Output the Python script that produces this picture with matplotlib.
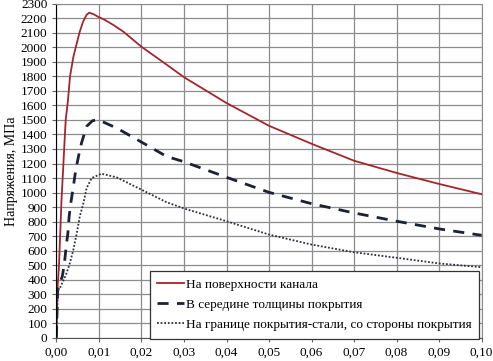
import numpy as np
import matplotlib
matplotlib.use('Agg')
import matplotlib.pyplot as plt

plt.rcParams['font.family'] = ['Liberation Serif', 'DejaVu Serif']

# поверхность канала
x_surf = [0, 0.0003, 0.0006, 0.0009, 0.0012, 0.0016, 0.002, 0.0022, 0.0027, 0.0032,
          0.004, 0.0048, 0.0055, 0.0063, 0.0071, 0.0077, 0.0087, 0.0098, 0.0114,
          0.0134, 0.0157, 0.02, 0.026, 0.03, 0.04, 0.05, 0.06, 0.07, 0.08, 0.09, 0.10]
y_surf = [0, 355, 490, 720, 950, 1170, 1400, 1505, 1630, 1800,
          1937, 2030, 2110, 2180, 2225, 2240, 2230, 2212, 2190,
          2155, 2110, 2005, 1880, 1795, 1617, 1460, 1336, 1219, 1135, 1059, 988]

# середина толщины
x_mid = [0, 0.0003, 0.0006, 0.0014, 0.0019, 0.0023, 0.0027, 0.003, 0.0034, 0.004,
         0.0045, 0.0052, 0.0059, 0.0071, 0.0085, 0.0098, 0.0142, 0.0204, 0.0259,
         0.03, 0.04, 0.05, 0.06, 0.07, 0.08, 0.09, 0.10]
y_mid = [0, 330, 355, 423, 516, 630, 720, 836, 930, 1043,
         1146, 1250, 1341, 1456, 1495, 1502, 1444, 1341, 1249,
         1212, 1105, 1001, 923, 859, 802, 749, 705]

# граница покрытия-стали
x_int = [0, 0.0003, 0.0009, 0.0016, 0.0024, 0.0032, 0.004, 0.0048, 0.0055, 0.0063,
         0.0071, 0.0083, 0.0106, 0.0142, 0.0197, 0.0259, 0.03, 0.04, 0.05, 0.06,
         0.07, 0.08, 0.09, 0.10]
y_int = [0, 320, 345, 390, 445, 516, 607, 720, 836, 920,
         1030, 1100, 1130, 1104, 1024, 933, 890, 802, 710, 641,
         588, 550, 511, 485]

labels = ['На поверхности канала',
          'В середине толщины покрытия',
          'На границе покрытия-стали, со стороны покрытия']

fig = plt.figure(figsize=(4.93, 3.61), dpi=100)
ax = fig.add_axes([0.1144, 0.065, 0.8626, 0.924])

ax.plot(x_surf, y_surf, color='#a3262e', lw=1.3, label=labels[0])
ax.plot(x_mid, y_mid, color='#1c2233', lw=2.0, ls=(0, (4, 3)), label=labels[1])
ax.plot(x_int, y_int, color='#2e3040', lw=1.3, ls=(0, (1, 1)), label=labels[2])

ax.set_xlim(0, 0.10)
ax.set_ylim(0, 2300)
xt = np.arange(0, 0.1001, 0.01)
ax.set_xticks(xt)
ax.set_xticklabels([('%.2f' % v).replace('.', ',') for v in xt])
ax.set_yticks(np.arange(0, 2301, 100))
ax.grid(True, color='#8c8c8c', lw=0.9)
ax.set_axisbelow(True)
ax.tick_params(labelsize=9.5, length=3, color='#666666')
for s in ['top', 'right']:
    ax.spines[s].set_color('#8c8c8c')
ax.spines['left'].set_color('black')
ax.spines['bottom'].set_color('#555555')
ax.set_ylabel('Напряжения, МПа', fontsize=10, labelpad=2)

leg = ax.legend(loc='lower right', bbox_to_anchor=(1.004, -0.016), fontsize=9.5,
                handlelength=2.0, handletextpad=0.15, labelspacing=0.6,
                borderpad=0.6, borderaxespad=0.3, fancybox=False, framealpha=1,
                edgecolor='#333333')
leg.get_frame().set_linewidth(0.9)

fig.savefig('out.png', dpi=100)
